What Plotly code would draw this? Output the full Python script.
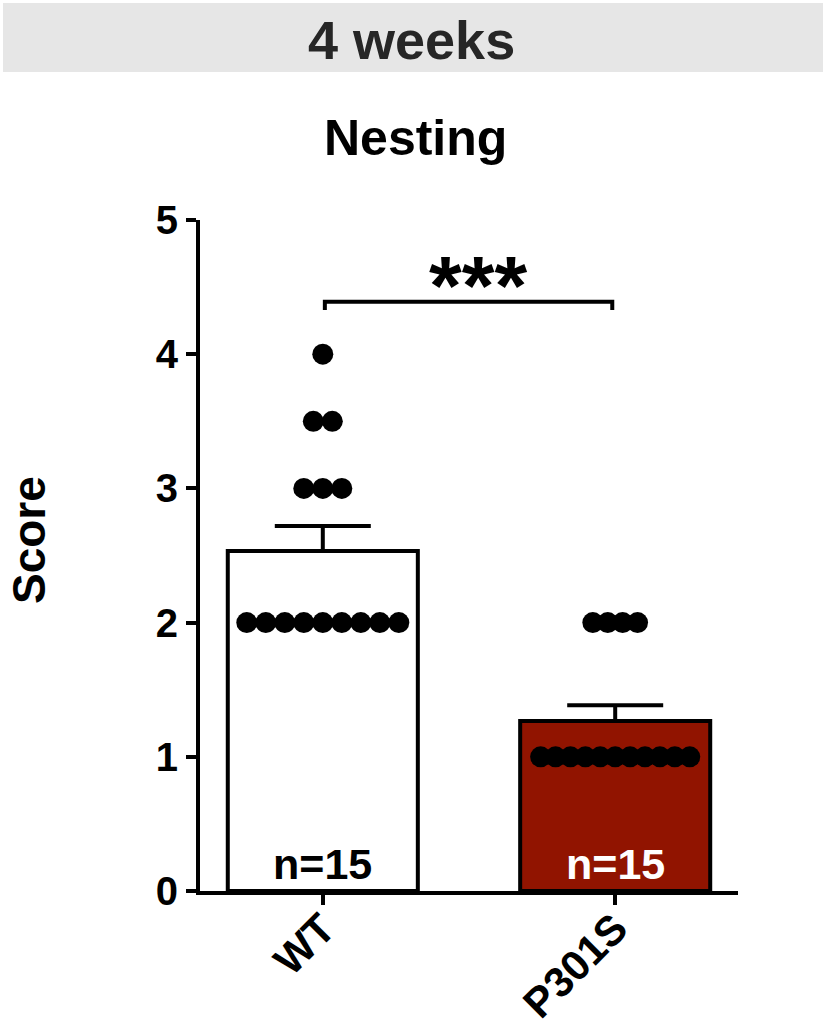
import plotly.graph_objects as go
import numpy as np

# ---- data ----
groups = ["WT", "P301S"]
wt_scores = [2, 2, 2, 2, 2, 2, 2, 2, 2, 3, 3, 3, 3.5, 3.5, 4]
p301s_scores = [1, 1, 1, 1, 1, 1, 1, 1, 1, 1, 1, 2, 2, 2, 2]
n_labels = ["n=15", "n=15"]
significance = "***"
y_ticks = [0, 1, 2, 3, 4, 5]

bar_colors = ["#ffffff", "#911400"]
n_text_colors = ["#000000", "#ffffff"]
dot_spacing = [0.065, 0.051]

W, H = 826, 1032
L, R, T, B = 200, 88, 220, 141
FONT = "Liberation Sans, Arial, sans-serif"


def px_x(px):
    return (px - L) / (W - L - R)


def px_y(py):
    return (H - B - py) / (H - T - B)


all_scores = [wt_scores, p301s_scores]
means = [float(np.mean(s)) for s in all_scores]
sems = [float(np.std(s, ddof=1) / np.sqrt(len(s))) for s in all_scores]


def spread(values, center, spacing):
    xs, ys = [], []
    vals = np.array(values, dtype=float)
    for v in sorted(set(values)):
        k = int(np.sum(vals == v))
        offs = (np.arange(k) - (k - 1) / 2) * spacing
        xs.extend(center + offs)
        ys.extend([v] * k)
    return xs, ys


fig = go.Figure()
fig.add_trace(go.Bar(
    x=[0, 1], y=means, width=0.65,
    marker=dict(color=bar_colors, line=dict(color="black", width=4)),
    error_y=dict(type="data", array=sems, arrayminus=[0, 0], symmetric=False,
                 color="black", thickness=4, width=48),
    showlegend=False, hoverinfo="skip",
))

for i, scores in enumerate(all_scores):
    xs, ys = spread(scores, i, dot_spacing[i])
    fig.add_trace(go.Scatter(
        x=xs, y=ys, mode="markers",
        marker=dict(color="black", size=21, line=dict(width=0)),
        showlegend=False, hoverinfo="skip",
    ))

# n labels inside bars
for i, t in enumerate(n_labels):
    fig.add_annotation(x=i, y=0.2, xref="x", yref="y", text=t, showarrow=False,
                       font=dict(family=FONT, size=43, color=n_text_colors[i], weight="bold"))

# significance bracket
yb, ytick = 4.39, 4.33
fig.add_shape(type="path", xref="x", yref="y",
              path=f"M 0.007 {ytick} L 0.007 {yb} L 0.99 {yb} L 0.99 {ytick}",
              line=dict(color="black", width=4))
fig.add_annotation(x=0.53, y=4.14, xref="x", yref="y", text=significance, showarrow=False,
                   yanchor="bottom",
                   font=dict(family=FONT, size=84, color="black", weight="bold"))

# header band
fig.add_shape(type="rect", xref="paper", yref="paper",
              x0=px_x(3), x1=px_x(823), y0=px_y(72), y1=px_y(3),
              fillcolor="#e6e6e6", line=dict(width=0), layer="below")
fig.add_annotation(x=px_x(411), y=px_y(40), xref="paper", yref="paper", text="4 weeks",
                   showarrow=False, yanchor="middle",
                   font=dict(family=FONT, size=54, color="#262626", weight="bold"))
fig.add_annotation(x=px_x(415), y=px_y(138), xref="paper", yref="paper", text="Nesting",
                   showarrow=False, yanchor="middle",
                   font=dict(family=FONT, size=50, color="black", weight="bold"))
fig.add_annotation(x=px_x(29), y=px_y(540), xref="paper", yref="paper", text="Score",
                   showarrow=False, textangle=-90, xanchor="center", yanchor="middle",
                   font=dict(family=FONT, size=46, color="black", weight="bold"))

fig.update_layout(
    width=W, height=H,
    margin=dict(l=L, r=R, t=T, b=B, pad=0, autoexpand=False),
    paper_bgcolor="white", plot_bgcolor="white",
    xaxis=dict(range=[-0.42, 1.42], tickvals=[0, 1], ticktext=groups, tickangle=-45,
               automargin=False, ticklabelstandoff=-18,
               showline=True, linecolor="black", linewidth=4, ticks="outside",
               ticklen=10, tickwidth=4, tickcolor="black", showgrid=False, zeroline=False,
               tickfont=dict(family=FONT, size=42, color="black", weight="bold")),
    yaxis=dict(range=[0, 5], tickvals=y_ticks, showline=True, linecolor="black", linewidth=4,
               automargin=False,
               ticks="outside", ticklen=10, tickwidth=4, tickcolor="black",
               showgrid=False, zeroline=False,
               tickfont=dict(family=FONT, size=40, color="black", weight="bold")),
)

fig.write_html("out.html", config={"displayModeBar": False},
               post_script="document.body.style.margin='0';")
